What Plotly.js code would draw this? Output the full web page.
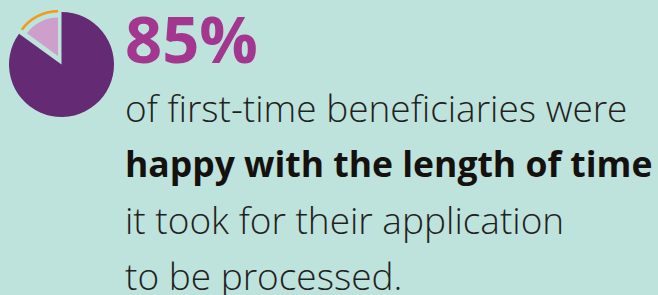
<!DOCTYPE html>
<html>
<head>
<meta charset="utf-8">
<script src="https://cdn.plot.ly/plotly-3.0.1.min.js"></script>
<style>html,body{margin:0;padding:0;background:#bee2dc;}#chart{width:658px;height:295px;}</style>
</head>
<body>
<div id="chart"></div>
<script>
// Data
const sliceLabels = ['Happy with length of time', 'Not happy'];
const sliceValues = [85, 15];
const headline = '85%';
const bodyLines = [
  'of first-time beneficiaries were',
  '<b>happy with the length of time</b>',
  'it took for their application',
  'to be processed.'
];

const W = 658, H = 295;
function dom(cx, cy, r) {
  return { x: [(cx - r) / W, (cx + r) / W], y: [1 - (cy + r) / H, 1 - (cy - r) / H] };
}
const T = 'rgba(0,0,0,0)';
const base = {
  type: 'pie', labels: sliceLabels, values: sliceValues, sort: false,
  direction: 'clockwise', rotation: 0, textinfo: 'none', hoverinfo: 'skip',
  showlegend: false
};

const traces = [
  Object.assign({}, base, {
    domain: dom(61.5, 64.5, 52.5),
    marker: { colors: ['#652a74', T], line: { width: 0 } }
  }),
  Object.assign({}, base, {
    domain: dom(58, 56, 38.5),
    marker: { colors: [T, '#cf9fcc'], line: { width: 0 } }
  }),
  Object.assign({}, base, {
    domain: dom(58, 56, 46),
    hole: 0.945,
    marker: { colors: [T, '#f39a1a'], line: { width: 0 } }
  })
];

const fam = '"Open Sans", sans-serif';
const annotations = [{
  text: '<b>' + headline + '</b>', xref: 'paper', yref: 'paper',
  x: 124 / W, y: 1 - (63.5 - 0.388 * 65) / H, xanchor: 'left', yanchor: 'middle', showarrow: false,
  borderpad: 0,
  font: { family: fam, size: 65, color: '#a3368e', weight: 800 }
}];
const baselines = [122, 177, 234, 290];
bodyLines.forEach((t, i) => {
  const bold = t.indexOf('<b>') === 0;
  const s = bold ? 35.5 : 37;
  annotations.push({
    text: t, xref: 'paper', yref: 'paper',
    x: 124 / W, y: 1 - (baselines[i] - 0.388 * s) / H, xanchor: 'left', yanchor: 'middle',
    showarrow: false, borderpad: 0,
    font: { family: fam, size: s, color: bold ? '#15110e' : '#231f1d', weight: bold ? 700 : 300 }
  });
});

Plotly.newPlot('chart', traces, {
  width: W, height: H, margin: { l: 0, r: 0, t: 0, b: 0 },
  paper_bgcolor: '#bee2dc', plot_bgcolor: '#bee2dc',
  annotations: annotations
}, { staticPlot: true, displayModeBar: false });
</script>
</body>
</html>
